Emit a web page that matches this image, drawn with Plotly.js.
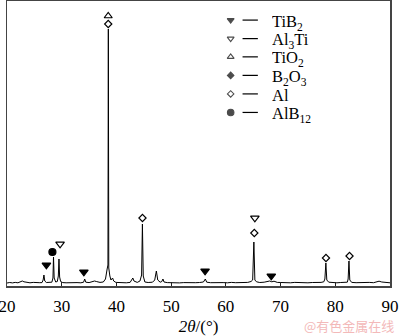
<!DOCTYPE html>
<html><head><meta charset="utf-8">
<script src="https://cdn.plot.ly/plotly-3.0.1.min.js"></script>
<style>html,body{margin:0;padding:0;background:#fff}#chart{width:400px;height:336px}</style>
</head><body><div id="chart"></div>
<script>
// XRD pattern (2θ in degrees, intensity in arbitrary units)
const twoTheta = [20.0,20.5,21.0,21.5,22.0,22.5,22.8,23.1,23.6,24.2,24.8,25.4,26.0,26.4,26.6,26.75,26.9,27.2,27.8,28.2,28.4,28.5,28.62,28.9,29.2,29.38,29.5,29.62,29.8,30.2,30.8,31.5,32.2,32.8,33.5,34.0,34.2,34.4,35.0,35.6,36.0,36.4,37.0,37.6,38.0,38.3,38.45,38.52,38.6,38.8,39.0,39.3,39.5,39.9,40.5,41.2,41.8,42.5,42.8,43.0,43.2,43.8,44.3,44.6,44.75,44.9,45.2,45.8,46.6,47.0,47.3,47.55,48.0,48.3,48.5,48.7,49.3,50.0,50.8,51.5,52.3,53.0,53.8,54.5,55.2,55.9,56.25,56.5,57.2,58.0,58.8,59.5,60.3,61.0,61.8,62.5,63.3,64.0,64.6,64.9,65.12,65.3,65.6,66.2,67.0,67.6,68.0,68.4,68.8,69.4,70.2,71.0,71.8,72.6,73.4,74.2,75.0,75.8,76.6,77.4,77.9,78.1,78.28,78.45,78.8,79.5,80.3,81.0,81.7,82.2,82.35,82.5,82.65,83.0,83.8,84.6,85.4,86.2,87.0,87.6,88.0,88.5,89.2,90.0];
const intensity = [3.0,3.5,3.1,3.6,3.2,4.5,5.0,4.2,3.5,3.2,3.6,3.1,3.3,3.4,6.0,11.0,5.0,3.5,3.3,3.8,8.0,29.0,8.0,4.0,4.5,10.0,27.0,9.0,4.5,3.4,3.2,3.5,3.1,3.4,3.2,3.8,7.0,3.8,3.4,4.2,5.0,4.4,3.6,4.0,7.0,17.0,21.0,257.0,18.0,10.0,6.0,8.0,5.0,3.6,3.3,3.5,3.2,3.6,6.0,8.0,5.0,3.6,5.0,11.0,62.0,10.0,4.0,3.5,3.8,6.0,15.0,6.0,3.8,4.5,7.0,4.0,3.4,3.2,3.5,3.1,3.4,3.2,3.6,3.3,3.5,4.0,7.0,3.8,3.3,3.5,3.1,3.4,3.2,3.6,3.3,3.5,3.2,3.6,4.5,6.0,44.0,6.0,4.2,3.5,3.8,4.5,5.0,4.2,4.8,3.6,3.3,3.5,3.2,3.6,3.3,3.4,3.2,3.5,3.3,3.6,4.2,7.0,23.0,6.0,3.8,3.4,3.2,3.5,3.3,3.8,7.0,25.0,6.0,3.6,3.3,3.5,3.2,3.6,3.3,4.0,4.8,4.0,3.4,3.2];

// phase identification marks (2θ, height)
const tib2X = [27.2,34.05,56.2,68.3],      tib2Y = [21,14,15,10];
const al3tiX = [29.7,65.3],                al3tiY = [42,68];
const tio2X = [38.5],                      tio2Y = [270];
const alX = [38.5,44.76,65.2,78.3,82.6],   alY = [262,68,53,28,30];
const alb12X = [28.3],                     alb12Y = [34];

// legend
const legendLabels = ['TiB<sub>2</sub>','Al<sub>3</sub>Ti','TiO<sub>2</sub>','B<sub>2</sub>O<sub>3</sub>','Al','AlB<sub>12</sub>'];
const legendSymbols = ['triangle-down','triangle-down-open','triangle-up-open','diamond','diamond-open','circle'];
const legendSizes = [6,6,6,5,5,6.5];
const legendRowY = [0.933,0.868,0.804,0.739,0.674,0.609];

const F = 'Liberation Serif, Times New Roman, serif';
const mk = (sym, size) => ({symbol: sym, size: size, color: '#000', line: {color: '#000', width: 1.2}});

// dash lines of the legend (x2/y2 run 0..1 over the plot area)
const dashX = [], dashY = [];
legendRowY.forEach(y => { dashX.push(0.615, 0.655, null); dashY.push(y, y, null); });

const traces = [
  {x: twoTheta, y: intensity, mode: 'lines', line: {color: '#000', width: 1}, hoverinfo: 'skip'},
  {x: tib2X, y: tib2Y, mode: 'markers', marker: mk('triangle-down', 7.5)},
  {x: al3tiX, y: al3tiY, mode: 'markers', marker: mk('triangle-down-open', 7.5)},
  {x: tio2X, y: tio2Y, mode: 'markers', marker: mk('triangle-up-open', 7)},
  {x: alX, y: alY, mode: 'markers', marker: mk('diamond-open', 5.5)},
  {x: alb12X, y: alb12Y, mode: 'markers', marker: mk('circle', 7)},
  {x: legendRowY.map(() => 0.584), y: legendRowY, xaxis: 'x2', yaxis: 'y2', mode: 'markers',
   marker: {symbol: legendSymbols, size: legendSizes, color: '#000', line: {color: '#000', width: 1.1}}},
  {x: dashX, y: dashY, xaxis: 'x2', yaxis: 'y2', mode: 'lines', line: {color: '#000', width: 1.2}, connectgaps: false}
];

const annotations = legendLabels.map((t, i) => ({xref: 'paper', yref: 'paper', x: 0.686, y: legendRowY[i], xanchor: 'left', yanchor: 'middle', yshift: -2,
  height: 17, valign: 'middle', text: t, showarrow: false, font: {family: F, size: 16.5, color: '#000'}}));
annotations.push({xref: 'paper', yref: 'paper', x: 0.894, y: -0.137, xanchor: 'center', yanchor: 'middle', text: '@有色金属在线', showarrow: false,
  font: {family: 'Noto Sans CJK SC', size: 13, color: '#f3b9b9'}});

const layout = {
  width: 400, height: 336,
  margin: {l: 7, r: 9.5, t: 1, b: 50},
  paper_bgcolor: '#fff', plot_bgcolor: '#fff',
  showlegend: false,
  xaxis: {range: [20, 90], dtick: 10, tick0: 20, ticks: 'inside', ticklen: 4, tickwidth: 1, tickcolor: '#222',
    showline: true, mirror: true, linecolor: '#444', linewidth: 1.5, showgrid: false, zeroline: false,
    automargin: false, ticklabeloverflow: 'allow', ticklabelstandoff: 4,
    tickfont: {family: F, size: 17, color: '#000'},
    title: {text: '<i>2θ</i>/(°)', font: {family: F, size: 17, color: '#000'}, standoff: 10}},
  yaxis: {range: [0, 285], showticklabels: false, ticks: '', showgrid: false, zeroline: false,
    showline: true, mirror: true, linecolor: '#444', linewidth: 1.5},
  xaxis2: {range: [0, 1], overlaying: 'x', visible: false},
  yaxis2: {range: [0, 1], overlaying: 'y', visible: false},
  annotations: annotations
};
Plotly.newPlot('chart', traces, layout, {staticPlot: true});
</script></body></html>
